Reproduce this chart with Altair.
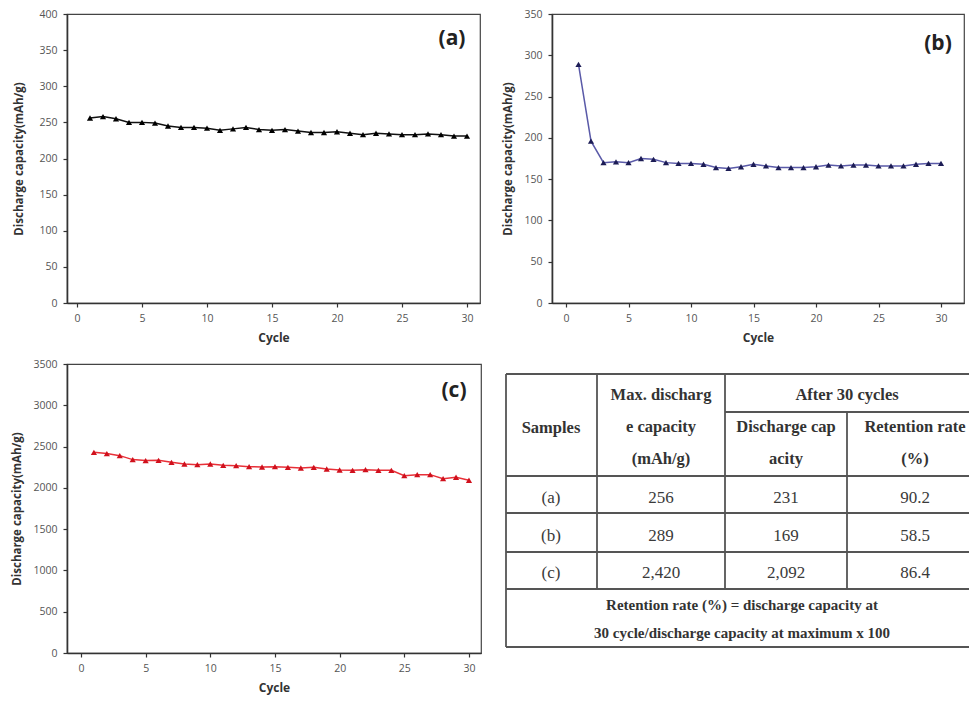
import altair as alt
import pandas as pd

# ---------------- data ----------------
cycles = [1, 2, 3, 4, 5, 6, 7, 8, 9, 10, 11, 12, 13, 14, 15,
          16, 17, 18, 19, 20, 21, 22, 23, 24, 25, 26, 27, 28, 29, 30]

cap_a = [256, 258, 255, 250, 250, 249, 245, 243, 243, 242, 239, 241, 243, 240, 239,
         240, 238, 236, 236, 237, 235, 233, 235, 234, 233, 233, 234, 233, 231, 231]

cap_b = [289, 196, 170, 171, 170, 175, 174, 170, 169, 169, 168, 164, 163, 165, 168,
         166, 164, 164, 164, 165, 167, 166, 167, 167, 166, 166, 166, 168, 169, 169]

cap_c = [2430, 2415, 2390, 2342, 2330, 2333, 2309, 2289, 2281, 2289, 2273, 2269, 2257, 2253, 2257,
         2249, 2241, 2249, 2228, 2216, 2212, 2220, 2212, 2212, 2148, 2160, 2160, 2111, 2128, 2092]

tbl_samples = ["(a)", "(b)", "(c)"]
tbl_max_cap = ["256", "289", "2,420"]
tbl_after_cap = ["231", "169", "2,092"]
tbl_retention = ["90.2", "58.5", "86.4"]

hdr_samples = "Samples"
hdr_max = ["Max. discharg", "e capacity", "(mAh/g)"]
hdr_after = "After 30 cycles"
hdr_dis = ["Discharge cap", "acity"]
hdr_ret = ["Retention rate", "(%)"]
footer = ["Retention rate (%) = discharge capacity at",
          "30 cycle/discharge capacity at maximum x 100"]

Y_TITLE = "Discharge capacity(mAh/g)"
X_TITLE = "Cycle"

# ---------------- styling ----------------
SANS = "Open Sans"
SERIF = "Liberation Serif"
LABEL_COLOR = "#555555"
AXIS_COLOR = "#333333"


def panel(values, label, line_color, point_color, x_domain, y_max, y_step,
          width, height, label_xy, y_title_pad):
    df = pd.DataFrame({"Cycle": cycles, "Capacity": values})
    x = alt.X("Cycle:Q",
              scale=alt.Scale(domain=x_domain, nice=False, zero=False),
              axis=alt.Axis(values=[0, 5, 10, 15, 20, 25, 30], format="d",
                            title=X_TITLE, grid=False,
                            labelFont=SANS, labelFontSize=10.5, labelColor=LABEL_COLOR,
                            tickSize=4, tickColor=AXIS_COLOR, tickWidth=1.2,
                            domainColor=AXIS_COLOR, domainWidth=1.6,
                            labelPadding=6,
                            titleFont=SANS, titleFontSize=12, titleFontWeight="bold",
                            titleColor="#333333", titlePadding=9))
    y = alt.Y("Capacity:Q",
              scale=alt.Scale(domain=[0, y_max], nice=False, zero=True),
              axis=alt.Axis(values=list(range(0, y_max + 1, y_step)), format="d",
                            title=Y_TITLE, grid=False,
                            labelFont=SANS, labelFontSize=10.5, labelColor=LABEL_COLOR,
                            tickSize=4, tickColor=AXIS_COLOR, tickWidth=1.2,
                            domainColor=AXIS_COLOR, domainWidth=1.6,
                            labelPadding=6,
                            titleFont=SANS, titleFontSize=11.5, titleFontWeight="bold",
                            titleColor="#333333", titlePadding=y_title_pad))
    base = alt.Chart(df)
    line = base.mark_line(color=line_color, strokeWidth=1.5).encode(x=x, y=y)
    pts = base.mark_point(shape="triangle-up", filled=True, size=38, opacity=1,
                          color=point_color).encode(x=x, y=y)
    lab = alt.Chart(pd.DataFrame({"t": [label]})).mark_text(
        font=SANS, fontSize=21, fontWeight="bold", color="#222222",
        align="center", baseline="middle").encode(
        text="t:N", x=alt.value(label_xy[0]), y=alt.value(label_xy[1]))
    return alt.layer(line, pts, lab).properties(width=width, height=height)


chart_a = panel(cap_a, "(a)", "#111111", "#000000", [-0.77, 31.0], 400, 50,
                413, 289, (385, 25), 14)
chart_b = panel(cap_b, "(b)", "#5a5aa8", "#1c1c55", [-1.12, 31.84], 350, 50,
                412, 289, (386, 30), 10)
chart_c = panel(cap_c, "(c)", "#e83038", "#d0101c", [-1.08, 30.93], 3500, 500,
                414, 289, (387, 27), 10)

# ---------------- table ----------------
TW, TH = 463, 289
col_edges = [0, 91, 219, 341, TW]
row_lines = [10, 48, 112, 149, 188, 225, 283]
col_centers = [45, 155, 280, 406]
row_centers = [134, 172, 209]

rules = pd.DataFrame([
    # horizontal lines
    {"x": 0, "x2": TW, "y": row_lines[0], "y2": row_lines[0]},
    {"x": col_edges[2], "x2": TW, "y": row_lines[1], "y2": row_lines[1]},
    {"x": 0, "x2": TW, "y": row_lines[2], "y2": row_lines[2]},
    {"x": 0, "x2": TW, "y": row_lines[3], "y2": row_lines[3]},
    {"x": 0, "x2": TW, "y": row_lines[4], "y2": row_lines[4]},
    {"x": 0, "x2": TW, "y": row_lines[5], "y2": row_lines[5]},
    {"x": 0, "x2": TW, "y": row_lines[6], "y2": row_lines[6]},
    # vertical lines
    {"x": 0, "x2": 0, "y": row_lines[0], "y2": row_lines[6]},
    {"x": col_edges[1], "x2": col_edges[1], "y": row_lines[0], "y2": row_lines[5]},
    {"x": col_edges[2], "x2": col_edges[2], "y": row_lines[0], "y2": row_lines[5]},
    {"x": col_edges[3], "x2": col_edges[3], "y": row_lines[1], "y2": row_lines[5]},
])

tx = alt.Scale(domain=[0, TW], nice=False, zero=False)
ty = alt.Scale(domain=[0, TH], nice=False, zero=False, reverse=True)

rule_layer = alt.Chart(rules).mark_rule(color="#555555", strokeWidth=1.8).encode(
    x=alt.X("x:Q", scale=tx, axis=None), x2="x2:Q",
    y=alt.Y("y:Q", scale=ty, axis=None), y2="y2:Q")

header_rows = []
header_rows.append({"x": col_centers[0], "y": 64, "t": hdr_samples})
for i, t in enumerate(hdr_max):
    header_rows.append({"x": col_centers[1], "y": [31, 63, 95][i], "t": t})
header_rows.append({"x": 341, "y": 31, "t": hdr_after})
for i, t in enumerate(hdr_dis):
    header_rows.append({"x": col_centers[2], "y": [63, 95][i], "t": t})
for i, t in enumerate(hdr_ret):
    header_rows.append({"x": col_centers[3] + 3, "y": [63, 95][i], "t": t})
header_df = pd.DataFrame(header_rows)

body_rows = []
for r in range(3):
    for c, col in enumerate([tbl_samples, tbl_max_cap, tbl_after_cap, tbl_retention]):
        body_rows.append({"x": col_centers[c] + (3 if c == 3 else 0),
                          "y": row_centers[r], "t": col[r]})
body_df = pd.DataFrame(body_rows)

foot_df = pd.DataFrame({"x": [236, 236], "y": [241, 269], "t": footer})

header_layer = alt.Chart(header_df).mark_text(
    font=SERIF, fontSize=16.5, fontWeight="bold", color="#333333",
    align="center", baseline="middle").encode(
    x=alt.X("x:Q", scale=tx, axis=None), y=alt.Y("y:Q", scale=ty, axis=None), text="t:N")
body_layer = alt.Chart(body_df).mark_text(
    font=SERIF, fontSize=17, color="#3a3a3a",
    align="center", baseline="middle").encode(
    x=alt.X("x:Q", scale=tx, axis=None), y=alt.Y("y:Q", scale=ty, axis=None), text="t:N")
foot_layer = alt.Chart(foot_df).mark_text(
    font=SERIF, fontSize=15, fontWeight="bold", color="#333333",
    align="center", baseline="middle").encode(
    x=alt.X("x:Q", scale=tx, axis=None), y=alt.Y("y:Q", scale=ty, axis=None), text="t:N")

table = alt.layer(rule_layer, header_layer, body_layer, foot_layer).properties(
    width=TW, height=TH, view=alt.ViewBackground(strokeOpacity=0))

row1 = alt.hconcat(chart_a, chart_b, spacing=72, bounds="flush")
row2 = alt.hconcat(chart_c, table, spacing=25, bounds="flush")

chart = alt.vconcat(row1, row2, spacing=13).properties(
    padding={"left": 3, "top": 0, "right": 0, "bottom": 0}
).configure_view(stroke="#444444", strokeWidth=1.2)

chart.save("out.html", embed_options={"renderer": "svg", "actions": False})
